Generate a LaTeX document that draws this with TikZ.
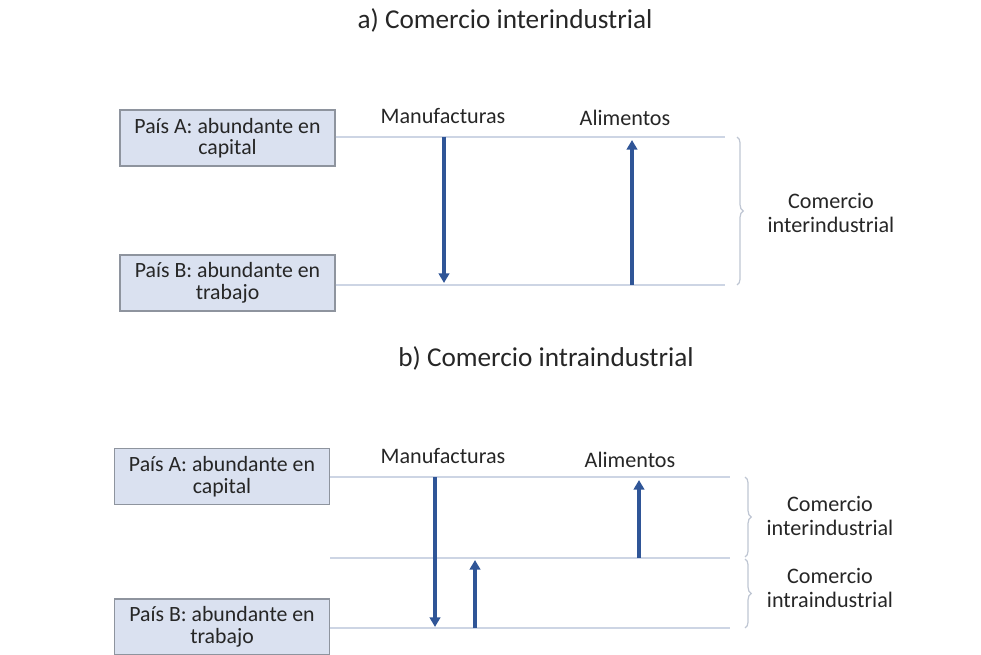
\documentclass[tikz,border=0pt]{standalone}
\usepackage{fontspec}
\setmainfont{Carlito}
\usetikzlibrary{arrows.meta,decorations.pathreplacing,positioning}
\definecolor{boxfill}{HTML}{DAE1F0}
\definecolor{boxline}{HTML}{8E949E}
\definecolor{arrowblue}{HTML}{2F5597}
\definecolor{guide}{HTML}{CDD5E4}
\definecolor{bracegray}{HTML}{BFC6D3}
\definecolor{textgray}{HTML}{262626}

\begin{document}
\begin{tikzpicture}[x=0.02cm,y=-0.02cm]
        \tikzset{Country/.style={rectangle, draw=boxline, fill=boxfill, thick, minimum width=4.3cm, minimum height=1.12cm, align=center, inner sep=1pt, text=textgray, font=\fontsize{12.4}{12.2}\selectfont}}
        \tikzset{Goods/.style={text=textgray, font=\fontsize{12.6}{13}\selectfont}}
        \tikzset{Kind/.style={align=center, text=textgray, font=\fontsize{12.6}{13.2}\selectfont}}
        \tikzset{Title/.style={text=textgray, font=\fontsize{15.5}{17}\selectfont}}
        \tikzset{Flow/.style={draw=arrowblue, line width=2.1pt, -{Triangle[length=5.5pt,width=6pt]}}}
        \tikzset{Level/.style={draw=guide, line width=0.9pt}}
        \tikzset{Span/.style={draw=bracegray, line width=0.7pt, decorate, decoration={brace, amplitude=3.5pt}}}

        \useasboundingbox (0,0) rectangle (981,655);

        % a) interindustrial
        \node[Title](TA) at (505,20) {a) Comercio interindustrial};
        \node[Country](PA1) at (227.5,138) {País A: abundante en\\capital};
        \node[Country](PB1) at (227.5,283) {País B: abundante en\\trabajo};
        \node[Goods](MA1) at (443,116) {Manufacturas};
        \node[Goods](AL1) at (625,118) {Alimentos};
        \node[Kind](KI1) at (831,213) {Comercio\\interindustrial};

        \coordinate (EA1) at (725,137);
        \coordinate (EB1) at (725,285);
        \coordinate (M1s) at (444,137);
        \coordinate (M1e) at (444,283);
        \coordinate (A1s) at (632,285);
        \coordinate (A1e) at (632,140);

        \draw[Level] (PA1.east |- EA1) -- (EA1);
        \draw[Level] (PB1.east |- EB1) -- (EB1);
        \draw[Flow] (M1s) -- (M1e);
        \draw[Flow] (A1s) -- (A1e);
        \draw[Span] (737,137) -- (737,285);

        % b) intraindustrial
        \node[Title](TB) at (546,358) {b) Comercio intraindustrial};
        \node[Country](PA2) at (222,476.5) {País A: abundante en\\capital};
        \node[Country](PB2) at (222,627) {País B: abundante en\\trabajo};
        \node[Goods](MA2) at (443,456) {Manufacturas};
        \node[Goods](AL2) at (630,460) {Alimentos};
        \node[Kind](KI2) at (830,516) {Comercio\\interindustrial};
        \node[Kind](KI3) at (830,588) {Comercio\\intraindustrial};

        \coordinate (EA2) at (730,477);
        \coordinate (SM2) at (330,558);
        \coordinate (EM2) at (730,558);
        \coordinate (EB2) at (730,628);
        \coordinate (M2s) at (435,477);
        \coordinate (M2e) at (435,627);
        \coordinate (A2s) at (639,558);
        \coordinate (A2e) at (639,480);
        \coordinate (I2s) at (475,628);
        \coordinate (I2e) at (475,560);

        \draw[Level] (PA2.east |- EA2) -- (EA2);
        \draw[Level] (SM2) -- (EM2);
        \draw[Level] (PB2.east |- EB2) -- (EB2);
        \draw[Flow] (M2s) -- (M2e);
        \draw[Flow] (A2s) -- (A2e);
        \draw[Flow] (I2s) -- (I2e);
        \draw[Span] (745,477) -- (745,557);
        \draw[Span] (745,559) -- (745,628);
\end{tikzpicture}
\end{document}
